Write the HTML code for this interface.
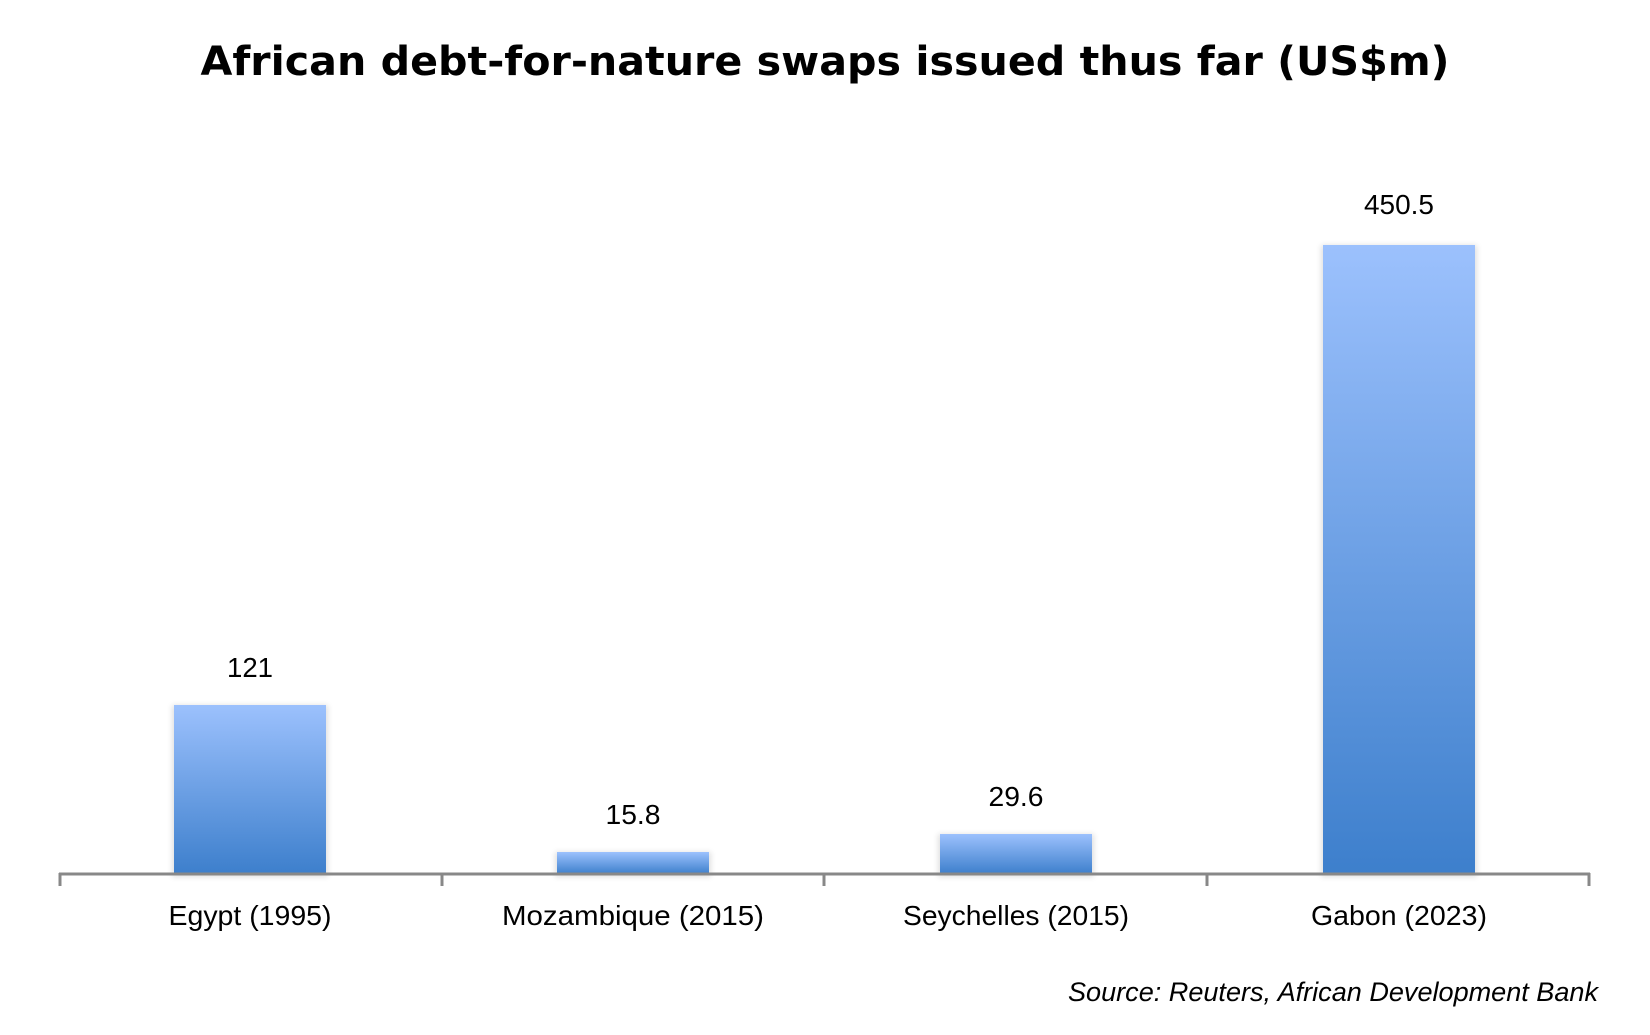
<!DOCTYPE html>
<html><head><meta charset="utf-8"><style>html,body{margin:0;padding:0;background:#fff;}</style></head>
<body>
<svg width="1650" height="1030" xmlns="http://www.w3.org/2000/svg">
<defs>
<linearGradient id="g" x1="0" y1="0" x2="0" y2="1">
<stop offset="0" stop-color="#9cc1fd"/><stop offset="1" stop-color="#3d7fcc"/>
</linearGradient>
<filter id="s" x="-10%" y="-10%" width="120%" height="120%"><feGaussianBlur stdDeviation="3"/></filter>
</defs>
<text x="825" y="75" text-anchor="middle" font-family="DejaVu Sans, Verdana, sans-serif" font-weight="bold" font-size="40" textLength="1249" lengthAdjust="spacingAndGlyphs">African debt-for-nature swaps issued thus far (US$m)</text>
<g fill="#000" opacity="0.12" filter="url(#s)">
<rect x="172" y="705" width="156" height="172"/>
<rect x="555" y="852" width="156" height="25"/>
<rect x="938" y="834" width="156" height="43"/>
<rect x="1321" y="245" width="156" height="632"/>
</g>
<rect x="174" y="705" width="152" height="169" fill="url(#g)"/>
<rect x="557" y="852" width="152" height="22" fill="url(#g)"/>
<rect x="940" y="834" width="152" height="40" fill="url(#g)"/>
<rect x="1323" y="245" width="152" height="629" fill="url(#g)"/>
<g stroke="#888" stroke-width="3" fill="none">
<line x1="59" y1="874" x2="1590" y2="874"/>
<line x1="60" y1="873" x2="60" y2="886"/>
<line x1="442" y1="873" x2="442" y2="886"/>
<line x1="824" y1="873" x2="824" y2="886"/>
<line x1="1207" y1="873" x2="1207" y2="886"/>
<line x1="1589" y1="873" x2="1589" y2="886"/>
</g>
<g font-family="Liberation Sans, Carlito, sans-serif" font-size="28" text-anchor="middle" fill="#000" lengthAdjust="spacingAndGlyphs">
<text x="250" y="677" textLength="46" lengthAdjust="spacingAndGlyphs">121</text>
<text x="633" y="824" textLength="55" lengthAdjust="spacingAndGlyphs">15.8</text>
<text x="1016" y="806" textLength="55" lengthAdjust="spacingAndGlyphs">29.6</text>
<text x="1399" y="214" textLength="70" lengthAdjust="spacingAndGlyphs">450.5</text>
<text x="250" y="925" textLength="163" lengthAdjust="spacingAndGlyphs">Egypt (1995)</text>
<text x="633" y="925" textLength="262" lengthAdjust="spacingAndGlyphs">Mozambique (2015)</text>
<text x="1016" y="925" textLength="226" lengthAdjust="spacingAndGlyphs">Seychelles (2015)</text>
<text x="1399" y="925" textLength="176" lengthAdjust="spacingAndGlyphs">Gabon (2023)</text>
</g>
<text x="1598" y="1001" text-anchor="end" font-family="Liberation Sans, sans-serif" font-style="italic" font-size="27" textLength="530" lengthAdjust="spacingAndGlyphs">Source: Reuters, African Development Bank</text>
</svg>
</body></html>
